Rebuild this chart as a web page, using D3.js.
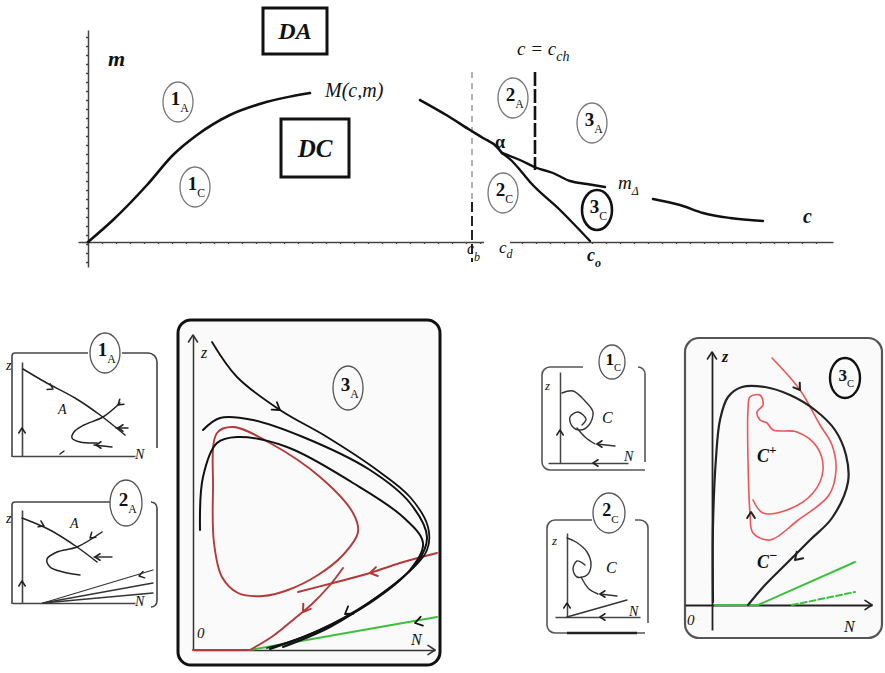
<!DOCTYPE html>
<html><head><meta charset="utf-8">
<script src="https://cdn.jsdelivr.net/npm/d3@7"></script>
<style>
body{margin:0;background:#fff;}
svg{display:block;}
text{font-family:"Liberation Serif","DejaVu Serif",serif;fill:#111;}
</style></head><body>
<svg id="c" width="885" height="673"></svg>
<script>
// ================= DATA =================
// --- Top diagram: parameter plane (c, m) ---
const topCDomain = [-10, 745];
const topMDomain = [-25, 212];
const boundaryLeft  = [[0,0],[25,22],[59,57],[85,87],[109,107],[142,127],[175,139],[222,149]];
const boundaryRight = [[332,142],[360,126],[382,112],[395,104],[409,95],[414,89]];
const branchUpper   = [[414,89],[432,82],[449,74],[465,69],[482,61],[499,58],[517,55]];
const branchLower   = [[414,89],[424,81],[432,72],[442,60],[472,32],[502,1]];
const mDeltaCurve   = [[565,43],[592,37],[615,29],[642,24],[675,21]];
const cbLineM  = [170, -20];
const cchLineM = [170, 72];
const cValues  = {b:384, d:410, o:502, ch:447};
const regionNum = ["1","1","2","3","2","3"];
const regionSub = ["A","C","A","A","C","C"];
const regionC   = [90,107,425,504,415,509];
const regionM   = [140,55,144,119,49,32];

// --- Panel 1_A (N, z) ---
const p1A_trajA = [[1,87],[23,74],[53,58],[78,41],[103,21]];
const p1A_trajB = [[98,53],[81,39],[62,31],[52,24],[50,18],[58,14],[75,13]];
const p1A_lines = [[[106,28],[94,28]],[[90,9],[72,11]],[[38,2],[42,5]]];
const p1A_arrows = [[31,67,-28],[96,51,-140],[96,28,180],[74,11,180],[0,28,90]];

// --- Panel 2_A ---
const p2A_trajA = [[0,85],[28,73],[55,56],[75,41]];
const p2A_trajB = [[80,71],[55,56],[35,51],[25,44],[28,36],[41,31],[58,28]];
const p2A_lines = [[[90,46],[72,46]],[[21,0],[131,33]],[[21,0],[131,20]],[[21,0],[131,10]]];
const p2A_arrows = [[22,77,-25],[68,65,-140],[73,46,180],[117,27,195],[0,22,90]];

// --- Panel 3_A ---
const p3A_black1 = [[19,308],[44,273],[87,240],[134,213],[184,180],[217,153],[235,123],[234,100],[210,73],[164,40],[110,13],[74,2]];
const p3A_black2 = [[10,220],[27,232],[60,230],[110,213],[177,180],[217,147],[234,113],[224,87],[184,53],[137,23],[90,3]];
const p3A_black3 = [[7,120],[10,173],[24,207],[44,213],[94,203],[160,167],[210,133],[230,107],[217,80],[177,47],[127,20],[77,1]];
const p3A_redLoop = [[24,217],[40,223],[77,207],[127,173],[160,137],[165,118],[150,95],[125,75],[95,60],[70,54],[45,57],[29,73],[21,107],[20,160]];
const p3A_redIn  = [[244,97],[207,87],[177,77],[140,67],[105,58]];
const p3A_redOut = [[150,82],[137,65],[120,47],[100,30],[80,14],[57,0]];
const p3A_redAxis = [[0,0],[57,0]];
const p3A_green  = [[57,0],[244,33]];
const p3A_blackArrows = [[87,240,-35],[152,36,-145],[222,27,195]];
const p3A_redArrows   = [[177,77,192],[110,38,-125]];

// --- Panel 1_C ---
const p1C_spiral = [[2,70],[13,72],[25,62],[33,51],[29,38],[20,33],[12,37],[10,46],[18,51],[26,44],[22,38]];
const p1C_tail   = [[17,35],[25,26],[35,19]];
const p1C_lines  = [[[37,19],[55,17]]];
const p1C_arrows = [[37,19,180],[33,0,180],[0,33,90]];

// --- Panel 2_C ---
const p2C_spiral = [[0,79],[9,75],[20,65],[24,52],[20,42],[10,40],[6,48],[10,56],[18,52]];
const p2C_tail   = [[14,40],[22,28],[31,23]];
const p2C_lines  = [[[33,23],[50,21]],[[0,0],[60,17]]];
const p2C_arrows = [[33,23,180],[33,0,180],[0,14,90]];

// --- Panel 3_C ---
const p3C_black = [[36,0],[53,20],[73,40],[98,65],[120,87],[136,123],[134,150],[123,175],[103,195],[78,210],[53,218],[30,218],[16,208],[8,185],[4,147],[1,80],[1,3]];
const p3C_red = [[60,247],[88,215],[108,180],[120,160],[124,135],[117,110],[85,84],[58,65],[41,72],[38,92],[36,145],[36,195],[38,208],[48,210],[51,200],[45,193],[48,185],[55,182],[61,175],[85,173],[105,158],[111,135],[101,112],[75,95],[51,92],[41,105]];
const p3C_green = [[[3,0],[46,0]],[[46,0],[143,43]]];
const p3C_greenDash = [[80,0],[143,13]];
const p3C_blackArrows = [[83,45,-135]];
const p3C_redArrows = [[88,215,-55],[39,93,90]];

// ================= DRAW =================
const svg = d3.select("#c");

function roundPath(pts, r){
  const p = d3.path();
  p.moveTo(pts[0][0], pts[0][1]);
  for(let i=1;i<pts.length-1;i++) p.arcTo(pts[i][0],pts[i][1],pts[i+1][0],pts[i+1][1],r);
  const l = pts[pts.length-1]; p.lineTo(l[0], l[1]);
  return p.toString();
}
function chevron(g, x, y, ang, s, col, w){
  g.append("path").attr("d",`M${-s},${-s*0.65}L0,0L${-s},${s*0.65}`)
    .attr("transform",`translate(${x},${y}) rotate(${-ang})`)
    .attr("fill","none").attr("stroke",col).attr("stroke-width",w||1.8)
    .attr("stroke-linecap","round").attr("stroke-linejoin","round");
}
function richText(g, x, y, main, sub, o){
  o = o||{};
  const t = g.append("text").attr("x",x).attr("y",y)
    .attr("font-size",o.size||18).attr("font-style",o.italic===false?"normal":"italic")
    .attr("font-weight",o.weight||"normal").attr("text-anchor",o.anchor||"start");
  t.append("tspan").text(main);
  if(sub){ t.append("tspan").attr("dy",o.subDy||5).attr("font-size",o.subSize||((o.size||18)*0.65)).text(sub); }
  return t;
}
function ellipseLabel(g, cx, cy, rx, ry, num, sub, o){
  o=o||{};
  g.append("ellipse").attr("cx",cx).attr("cy",cy).attr("rx",rx).attr("ry",ry)
    .attr("fill","none").attr("stroke",o.stroke||"#666").attr("stroke-width",o.sw||1.3);
  const fs = o.size||18;
  const t = g.append("text").attr("x",cx-fs*0.38).attr("y",cy+fs*0.18)
    .attr("font-size",fs).attr("font-weight","bold");
  t.append("tspan").text(num);
  t.append("tspan").attr("dy",fs*0.35).attr("font-size",fs*0.62).attr("font-weight","normal").text(sub);
}

// ---------- Top diagram ----------
const xT = d3.scaleLinear().domain(topCDomain).range([78,833]);
const yT = d3.scaleLinear().domain(topMDomain).range([267,30]);
const lT = d3.line().x(d=>xT(d[0])).y(d=>yT(d[1])).curve(d3.curveMonotoneX);
const topG = svg.append("g");

const axX = topG.append("g").attr("transform",`translate(0,${yT(0)})`)
  .call(d3.axisBottom(xT).tickValues(d3.range(0,740,14)).tickSize(2).tickSizeOuter(0).tickFormat(""));
const axY = topG.append("g").attr("transform",`translate(${xT(0)},0)`)
  .call(d3.axisLeft(yT).tickValues(d3.range(-20,210,9)).tickSize(2).tickSizeOuter(0).tickFormat(""));
[axX,axY].forEach(a=>{a.select(".domain").attr("stroke","#444").attr("stroke-width",1.5);
  a.selectAll(".tick line").attr("stroke","#444").attr("stroke-width",1.3);});
topG.append("rect").attr("x",xT(cValues.d)-14).attr("y",yT(0)-4).attr("width",26).attr("height",8).attr("fill","#fff");

topG.append("line").attr("x1",xT(cValues.b)).attr("x2",xT(cValues.b)).attr("y1",yT(cbLineM[0])).attr("y2",yT(40))
  .attr("stroke","#999").attr("stroke-width",1.5).attr("stroke-dasharray","6,5");
topG.append("line").attr("x1",xT(cValues.b)).attr("x2",xT(cValues.b)).attr("y1",yT(40)).attr("y2",yT(cbLineM[1]))
  .attr("stroke","#222").attr("stroke-width",2).attr("stroke-dasharray","10,4");
topG.append("line").attr("x1",xT(cValues.ch)).attr("x2",xT(cValues.ch)).attr("y1",yT(cchLineM[0])).attr("y2",yT(cchLineM[1]))
  .attr("stroke","#111").attr("stroke-width",2.6).attr("stroke-dasharray","14,3");

[[boundaryLeft,2.6],[boundaryRight,2.6],[branchUpper,2.4],[branchLower,2.4],[mDeltaCurve,2.4]].forEach(([d,w])=>{
  topG.append("path").attr("d",lT(d)).attr("fill","none").attr("stroke","#111").attr("stroke-width",w).attr("stroke-linecap","round");
});

function box(cx, cy, w, h, txt, fs){
  topG.append("rect").attr("x",xT(cx)-w/2).attr("y",yT(cy)-h/2).attr("width",w).attr("height",h)
    .attr("fill","#fff").attr("stroke","#111").attr("stroke-width",3);
  topG.append("text").attr("x",xT(cx)).attr("y",yT(cy)+fs*0.34).attr("text-anchor","middle")
    .attr("font-size",fs).attr("font-style","italic").attr("font-weight","bold").text(txt);
}
box(207,211,64,46,"DA",24);
box(227,94,68,58,"DC",25);

regionNum.forEach((n,i)=>{
  const bold = (n==="3" && regionSub[i]==="C");
  ellipseLabel(topG, xT(regionC[i]), yT(regionM[i]), 15, 20, n, regionSub[i],
    {stroke: bold?"#111":"#777", sw: bold?2.6:1.3, size:19});
});

richText(topG, xT(20), yT(176), "m", null, {size:22, weight:"bold"});
richText(topG, xT(237), yT(145), "M(c,m)", null, {size:20});
richText(topG, xT(407), yT(94), "α", null, {size:18, italic:false, weight:"bold"});
richText(topG, xT(429), yT(187), "c = c", "ch", {size:19, subSize:14, subDy:6});
richText(topG, xT(530), yT(53), "m", "Δ", {size:19, subSize:12, subDy:6});
richText(topG, xT(715), yT(19), "c", null, {size:20, weight:"bold"});
richText(topG, xT(379), yT(-12), "c", "b", {size:16, subSize:12, subDy:7});
richText(topG, xT(411), yT(-11), "c", "d", {size:17, subSize:12, subDy:5});
richText(topG, xT(499), yT(-19), "c", "o", {size:18, subSize:12, subDy:6, weight:"bold"});

// ---------- Phase panels ----------
function makePanel(ox, oy, xd, yd){
  const x = d3.scaleLinear().domain(xd).range([ox+xd[0], ox+xd[1]]);
  const y = d3.scaleLinear().domain(yd).range([oy-yd[0], oy-yd[1]]);
  const g = svg.append("g");
  const ln = d3.line().x(d=>x(d[0])).y(d=>y(d[1])).curve(d3.curveCatmullRom.alpha(0.5));
  const lnC = d3.line().x(d=>x(d[0])).y(d=>y(d[1])).curve(d3.curveCatmullRomClosed.alpha(0.5));
  const P = pts => pts.map(d=>[x(d[0]),y(d[1])]);
  return {x,y,g,ln,lnC,P};
}
function drawAxes(p, arrowsEnds, col, w){
  const ax = p.g.append("g").attr("transform",`translate(0,${p.y(0)})`).call(d3.axisBottom(p.x).ticks(0).tickSizeOuter(0));
  const ay = p.g.append("g").attr("transform",`translate(${p.x(0)},0)`).call(d3.axisLeft(p.y).ticks(0).tickSizeOuter(0));
  [ax,ay].forEach(a=>a.select(".domain").attr("stroke",col||"#333").attr("stroke-width",w||1.5));
  if(arrowsEnds){
    chevron(p.g, p.x.range()[1], p.y(0), 0, 7, col||"#333", 1.6);
    chevron(p.g, p.x(0), p.y.range()[1], 90, 7, col||"#333", 1.6);
  }
}
function curve(p, d, col, w, closed, dash){
  p.g.append("path").attr("d",(closed?p.lnC:p.ln)(d)).attr("fill","none").attr("stroke",col)
    .attr("stroke-width",w).attr("stroke-linecap","round").attr("stroke-dasharray",dash||null);
}
function arrows(p, list, col, s, w){
  list.forEach(a=>chevron(p.g, p.x(a[0]), p.y(a[1]), a[2], s||6, col, w));
}
function ptxt(p, n, z, t, o){ richText(p.g, p.x(n), p.y(z), t, null, o); }

// Panel 1_A
{
  const p = makePanel(22,456,[-10,113],[0,94]);
  p.g.append("path").attr("d",roundPath(p.P([[66,103],[-10,103],[-10,-1]]),3)).attr("fill","none").attr("stroke","#444").attr("stroke-width",1.6);
  p.g.append("path").attr("d",roundPath(p.P([[100,103],[135,103],[135,8]]),9)).attr("fill","none").attr("stroke","#444").attr("stroke-width",1.6);
  drawAxes(p,false,"#444",1.6);
  curve(p,p1A_trajA,"#222",1.5); curve(p,p1A_trajB,"#222",1.5);
  p1A_lines.forEach(l=>curve(p,l,"#222",1.4));
  arrows(p,p1A_arrows,"#222",5,1.5);
  ellipseLabel(p.g,p.x(83),p.y(103),15,20,"1","A",{size:19,stroke:"#555"});
  ptxt(p,-16,86,"z",{size:14});
  ptxt(p,36,42,"A",{size:14});
  ptxt(p,113,-3,"N",{size:14});
}
// Panel 2_A
{
  const p = makePanel(22,603,[-10,113],[0,93]);
  p.g.append("path").attr("d",roundPath(p.P([[88,101],[-10,101],[-10,-1]]),3)).attr("fill","none").attr("stroke","#444").attr("stroke-width",1.6);
  p.g.append("path").attr("d",roundPath(p.P([[130,101],[135,101],[135,-4],[130,-4]]),6)).attr("fill","none").attr("stroke","#444").attr("stroke-width",1.6);
  drawAxes(p,false,"#444",1.6);
  curve(p,p2A_trajA,"#222",1.5); curve(p,p2A_trajB,"#222",1.5);
  p2A_lines.forEach(l=>curve(p,l,"#333",1.3));
  arrows(p,p2A_arrows,"#222",5,1.5);
  ellipseLabel(p.g,p.x(104),p.y(100),16,23,"2","A",{size:19,stroke:"#555"});
  ptxt(p,-16,80,"z",{size:14});
  ptxt(p,48,75,"A",{size:14});
  ptxt(p,113,-3,"N",{size:14});
}
// Panel 3_A
{
  const p = makePanel(193,650,[0,242],[0,315]);
  p.g.append("rect").attr("x",p.x(-15)).attr("y",p.y(330)).attr("width",p.x(247)-p.x(-15)).attr("height",p.y(-15)-p.y(330))
    .attr("rx",13).attr("fill","#fafafa").attr("stroke","#111").attr("stroke-width",3);
  drawAxes(p,true,"#333",1.5);
  curve(p,p3A_redAxis,"#b33a3a",2.2);
  curve(p,p3A_green,"#3cbf3c",2);
  curve(p,p3A_redLoop,"#b33a3a",1.9,true);
  curve(p,p3A_redIn,"#b33a3a",1.9);
  curve(p,p3A_redOut,"#b33a3a",1.9);
  curve(p,p3A_black1,"#111",1.8);
  curve(p,p3A_black2,"#111",2);
  curve(p,p3A_black3,"#111",2);
  arrows(p,p3A_blackArrows,"#111",7,1.8);
  arrows(p,p3A_redArrows,"#b33a3a",7,2);
  ellipseLabel(p.g,p.x(155),p.y(262),15,22,"3","A",{size:19,stroke:"#555"});
  ptxt(p,8,292,"z",{size:16});
  ptxt(p,4,12,"0",{size:15});
  ptxt(p,218,5,"N",{size:16});
}
// Panel 1_C
{
  const p = makePanel(560,463,[-12,68],[0,91]);
  p.g.append("path").attr("d",roundPath(p.P([[23,96],[-18,96],[-18,-7],[85,-7]]),8)).attr("fill","none").attr("stroke","#555").attr("stroke-width",1.6);
  p.g.append("path").attr("d",roundPath(p.P([[78,96],[85,96],[85,1]]),7)).attr("fill","none").attr("stroke","#555").attr("stroke-width",1.6);
  drawAxes(p,false,"#444",1.5);
  curve(p,p1C_spiral,"#333",1.4); curve(p,p1C_tail,"#333",1.4);
  p1C_lines.forEach(l=>curve(p,l,"#333",1.4));
  arrows(p,p1C_arrows,"#222",5,1.5);
  ellipseLabel(p.g,p.x(52),p.y(101),13,17,"1","C",{size:17,stroke:"#555"});
  ptxt(p,-15,73,"z",{size:13});
  ptxt(p,42,40,"C",{size:16});
  ptxt(p,64,2,"N",{size:14});
}
// Panel 2_C
{
  const p = makePanel(567,617,[-12,73],[0,84]);
  p.g.append("path").attr("d",roundPath(p.P([[25,97],[-20,97],[-20,-16],[78,-16]]),8)).attr("fill","none").attr("stroke","#555").attr("stroke-width",1.6);
  p.g.append("path").attr("d",roundPath(p.P([[68,97],[81,97],[81,-6]]),8)).attr("fill","none").attr("stroke","#555").attr("stroke-width",1.6);
  p.g.append("line").attr("x1",p.x(0)).attr("x2",p.x(70)).attr("y1",p.y(-16)).attr("y2",p.y(-16)).attr("stroke","#222").attr("stroke-width",2.5);
  drawAxes(p,false,"#444",1.5);
  curve(p,p2C_spiral,"#333",1.4); curve(p,p2C_tail,"#333",1.4);
  p2C_lines.forEach(l=>curve(p,l,"#333",1.4));
  arrows(p,p2C_arrows,"#222",5,1.5);
  ellipseLabel(p.g,p.x(42),p.y(104),16,20,"2","C",{size:18,stroke:"#555"});
  ptxt(p,-15,72,"z",{size:13});
  ptxt(p,39,44,"C",{size:16});
  ptxt(p,62,1,"N",{size:14});
}
// Panel 3_C
{
  const p = makePanel(712,605,[-27,160],[-25,253]);
  p.g.append("rect").attr("x",p.x(-27)).attr("y",p.y(267)).attr("width",p.x(170)-p.x(-27)).attr("height",p.y(-33)-p.y(267))
    .attr("rx",14).attr("fill","#fafafa").attr("stroke","#555").attr("stroke-width",2.2);
  drawAxes(p,true,"#222",1.8);
  p3C_green.forEach(l=>curve(p,l,"#3cbf3c",2));
  curve(p,p3C_greenDash,"#3cbf3c",2,false,"6,3");
  curve(p,p3C_red,"#ee5555",1.6);
  curve(p,p3C_black,"#222",2.2);
  arrows(p,p3C_blackArrows,"#222",7,2);
  arrows(p,p3C_redArrows,"#222",6,2);
  ellipseLabel(p.g,p.x(133),p.y(227),15,20,"3","C",{size:17,stroke:"#111",sw:2.4});
  ptxt(p,10,243,"z",{size:16, weight:"bold"});
  ptxt(p,-25,-20,"0",{size:15});
  ptxt(p,132,-27,"N",{size:16});
  richText(p.g,p.x(45),p.y(143),"C","+",{size:18,weight:"bold",subDy:-8,subSize:13});
  richText(p.g,p.x(45),p.y(37),"C","−",{size:18,weight:"bold",subDy:-8,subSize:14});
}
</script>
</body></html>
